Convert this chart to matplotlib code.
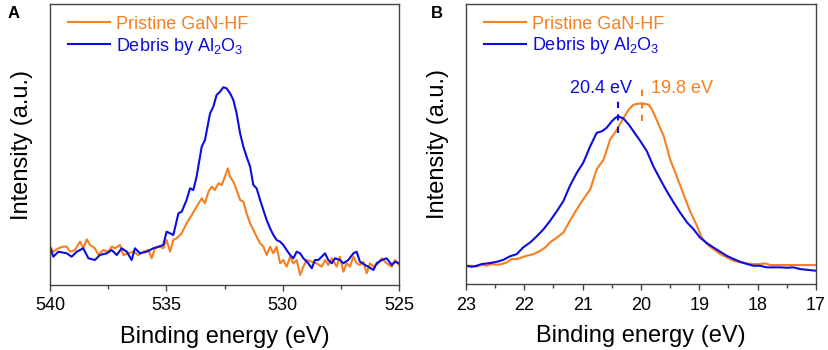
import numpy as np
import matplotlib
matplotlib.use('Agg')
import matplotlib.pyplot as plt

plt.rcParams['font.family'] = ['Liberation Sans', 'DejaVu Sans']
plt.rcParams['mathtext.fontset'] = 'custom'
plt.rcParams['mathtext.rm'] = 'Liberation Sans'
plt.rcParams['mathtext.default'] = 'regular'

ORANGE = '#F77F1E'
BLUE = '#0D0DDD'

# ---- panel A : O 1s region ----
a_orange_ev = [540.00, 539.86, 539.64, 539.43, 539.28, 539.14, 538.93, 538.71, 538.57, 538.42,
               538.28, 538.07, 537.92, 537.71, 537.49, 537.35, 537.21, 536.99, 536.85, 536.63,
               536.42, 536.20, 535.99, 535.77, 535.63, 535.49, 535.27, 535.13, 534.99, 534.84,
               534.70, 534.56, 534.34, 534.13, 533.91, 533.70, 533.48, 533.34, 533.19, 533.05,
               532.91, 532.76, 532.62, 532.48, 532.36, 532.26, 532.12, 531.98, 531.83, 531.69,
               531.55, 531.40, 531.26, 531.12, 530.97, 530.83, 530.69, 530.54, 530.40, 530.26,
               530.11, 529.97, 529.83, 529.68, 529.54, 529.40, 529.25, 529.11, 528.97, 528.75,
               528.54, 528.32, 528.18, 528.04, 527.89, 527.68, 527.54, 527.39, 527.25, 527.11,
               526.96, 526.82, 526.68, 526.53, 526.39, 526.25, 526.10, 525.89, 525.74, 525.53,
               525.31, 525.17, 525.00]
a_orange_int = [38.3, 33.3, 36.7, 38.3, 38.3, 33.3, 35.0, 43.3, 36.7, 45.7,
                40.0, 36.7, 30.0, 35.0, 33.3, 38.3, 36.7, 40.0, 30.0, 31.7,
                33.3, 30.0, 33.3, 35.0, 26.7, 36.7, 38.3, 36.7, 45.0, 33.3,
                45.0, 46.7, 51.7, 61.7, 70.0, 78.3, 86.7, 81.7, 93.3, 98.3,
                95.0, 101.7, 100.0, 108.3, 116.7, 108.3, 103.3, 95.0, 85.0, 83.3,
                71.7, 61.7, 55.0, 48.3, 41.7, 38.3, 30.0, 38.3, 31.7, 38.3,
                21.7, 25.0, 18.3, 28.3, 21.7, 25.0, 10.0, 18.3, 25.0, 23.3,
                21.7, 18.3, 25.0, 20.0, 26.7, 18.3, 28.3, 13.3, 21.7, 18.3,
                28.3, 21.7, 20.0, 23.3, 11.7, 21.7, 18.3, 21.7, 26.7, 21.7,
                18.3, 25.0, 20.0]

a_blue_ev = [540.00, 539.86, 539.64, 539.28, 539.07, 538.85, 538.57, 538.35, 538.07, 537.85,
             537.56, 537.35, 537.13, 536.92, 536.70, 536.49, 536.35, 536.13, 535.85, 535.56,
             535.34, 535.13, 534.99, 534.84, 534.70, 534.48, 534.34, 534.13, 533.98, 533.84,
             533.70, 533.48, 533.34, 533.12, 532.98, 532.84, 532.69, 532.55, 532.41, 532.26,
             532.12, 531.98, 531.83, 531.69, 531.55, 531.40, 531.26, 531.12, 530.97, 530.83,
             530.69, 530.54, 530.40, 530.26, 530.11, 529.97, 529.83, 529.68, 529.54, 529.40,
             529.25, 529.11, 528.90, 528.75, 528.61, 528.47, 528.32, 528.18, 528.04, 527.89,
             527.75, 527.54, 527.39, 527.18, 526.96, 526.82, 526.68, 526.46, 526.32, 526.10,
             525.96, 525.74, 525.53, 525.31, 525.17, 525.00]
a_blue_int = [38.3, 28.3, 33.3, 31.7, 28.3, 33.3, 36.7, 26.7, 25.0, 30.0,
              31.7, 35.0, 30.0, 36.7, 33.3, 25.0, 36.7, 31.7, 33.3, 36.7,
              38.3, 40.0, 53.3, 51.7, 50.0, 71.7, 73.3, 85.0, 96.7, 95.0,
              108.3, 138.3, 145.0, 171.7, 178.3, 190.0, 193.3, 197.7, 196.7, 191.7,
              185.0, 171.7, 151.7, 138.3, 128.3, 118.3, 100.0, 96.7, 85.0, 75.0,
              65.0, 56.7, 50.0, 45.0, 43.3, 40.0, 35.0, 30.0, 26.7, 33.3,
              31.7, 26.7, 21.7, 16.7, 25.0, 25.0, 28.3, 31.7, 25.0, 21.7,
              26.7, 25.0, 21.7, 25.0, 31.7, 33.3, 23.3, 20.0, 18.3, 15.0,
              21.7, 25.0, 26.7, 20.0, 23.3, 21.7]

# ---- panel B : valence band region ----
b_orange_ev = [23.00, 22.90, 22.82, 22.73, 22.65, 22.56, 22.47, 22.39, 22.30, 22.22,
               22.13, 22.04, 21.96, 21.84, 21.73, 21.64, 21.56, 21.44, 21.33, 21.22,
               21.10, 20.99, 20.87, 20.76, 20.64, 20.53, 20.41, 20.30, 20.21, 20.13,
               20.04, 19.96, 19.87, 19.81, 19.72, 19.61, 19.50, 19.39, 19.27, 19.16,
               19.04, 18.96, 18.87, 18.76, 18.64, 18.53, 18.41, 18.30, 18.18, 18.07,
               17.96, 17.87, 17.78, 17.67, 17.50, 17.33, 17.15, 17.00]
b_orange_int = [18.3, 18.3, 17.3, 19.3, 18.3, 20.0, 19.3, 20.0, 21.7, 25.0,
                25.0, 26.7, 28.3, 30.0, 33.3, 36.7, 41.7, 46.7, 51.7, 63.3,
                75.0, 85.0, 95.0, 115.0, 125.0, 145.0, 155.0, 166.7, 175.0, 180.0,
                181.0, 181.0, 180.0, 175.0, 163.3, 148.3, 125.0, 108.3, 90.0, 73.3,
                58.3, 46.7, 40.0, 35.0, 30.0, 26.7, 23.3, 21.7, 20.7, 20.0,
                20.0, 20.7, 19.0, 19.0, 19.0, 19.0, 19.0, 19.0]

b_blue_ev = [23.00, 22.90, 22.82, 22.73, 22.59, 22.47, 22.36, 22.25, 22.13, 22.02,
             21.90, 21.79, 21.67, 21.56, 21.44, 21.33, 21.22, 21.10, 20.99, 20.87,
             20.76, 20.67, 20.59, 20.50, 20.44, 20.39, 20.30, 20.21, 20.13, 20.01,
             19.90, 19.79, 19.67, 19.56, 19.44, 19.33, 19.21, 19.10, 18.99, 18.87,
             18.76, 18.64, 18.53, 18.41, 18.30, 18.18, 18.07, 17.96, 17.84, 17.73,
             17.61, 17.50, 17.39, 17.27, 17.16, 17.00]
b_blue_int = [18.3, 17.3, 18.3, 20.0, 21.0, 22.3, 24.3, 27.7, 30.0, 36.7,
              41.7, 47.7, 55.0, 63.3, 73.3, 83.3, 98.3, 111.7, 121.7, 138.3,
              151.7, 153.3, 156.7, 163.3, 166.7, 168.3, 166.0, 160.0, 153.3, 143.3,
              133.3, 118.3, 105.0, 93.3, 81.7, 71.7, 61.7, 55.0, 46.7, 41.0,
              36.7, 32.3, 28.3, 25.0, 22.3, 20.0, 18.3, 18.3, 16.7, 16.7,
              16.7, 16.3, 16.7, 15.0, 14.3, 13.3]

# peak markers (position, ymin, ymax) and labels
peak_blue = (20.40, 151.7, 183.3)
peak_orange = (19.98, 163.3, 197.7)
label_blue = '20.4 eV'
label_orange = '19.8 eV'

labels = ['Pristine GaN-HF', 'Debris by Al$_\\mathregular{2}$O$_\\mathregular{3}$']

fig = plt.figure(figsize=(8.29, 3.5), dpi=100)
axA = fig.add_axes([50 / 829, 65 / 350, 349 / 829, 281 / 350])
axB = fig.add_axes([466 / 829, 66 / 350, 350 / 829, 280 / 350])


def style_axes(ax, xlim, major, minor):
    ax.set_xlim(*xlim)
    ax.set_ylim(0, 281)
    ax.set_xticks(np.arange(xlim[1], xlim[0] + 0.001, major))
    ax.set_xticks(np.arange(xlim[1], xlim[0] + 0.001, minor), minor=True)
    ax.set_yticks([])
    ax.tick_params(axis='x', which='major', direction='out', length=4, width=1,
                   labelsize=13, pad=5, color='#444444')
    ax.tick_params(axis='x', which='minor', direction='out', length=3, width=1,
                   color='#444444')
    for sp in ax.spines.values():
        sp.set_color('#444444')
        sp.set_linewidth(1.0)
    ax.set_xlabel('Binding energy (eV)', fontsize=17, labelpad=8)
    ax.set_ylabel('Intensity (a.u.)', fontsize=17, labelpad=12)
    leg = ax.legend(loc='upper left', bbox_to_anchor=(0.052, 0.958), frameon=False,
                    fontsize=13, handlelength=2.3, handletextpad=0.35,
                    borderpad=0, borderaxespad=0, labelspacing=0.15,
                    labelcolor='linecolor')
    return leg


axA.plot(a_orange_ev, a_orange_int, color=ORANGE, lw=1.5, label=labels[0])
axA.plot(a_blue_ev, a_blue_int, color=BLUE, lw=1.5, label=labels[1])
style_axes(axA, (540, 525), 5, 2.5)

axB.plot(b_orange_ev, b_orange_int, color=ORANGE, lw=1.5, label=labels[0])
axB.plot(b_blue_ev, b_blue_int, color=BLUE, lw=1.5, label=labels[1])
axB.vlines(peak_blue[0], peak_blue[1], peak_blue[2], colors=BLUE, lw=1.5,
           linestyles=(0, (3, 3)))
axB.vlines(peak_orange[0], peak_orange[1], peak_orange[2], colors=ORANGE, lw=1.5,
           linestyles=(0, (3, 3)))
axB.text(20.16, 195.7, label_blue, color=BLUE, fontsize=13, ha='right', va='center')
axB.text(19.83, 195.7, label_orange, color=ORANGE, fontsize=13, ha='left', va='center')
style_axes(axB, (23, 17), 1, 0.5)
axB.xaxis.set_major_formatter(matplotlib.ticker.FormatStrFormatter('%d'))

fig.text(8 / 829, 1 - 13 / 350, 'A', fontsize=12, fontweight='bold', va='center')
fig.text(431 / 829, 1 - 13 / 350, 'B', fontsize=12, fontweight='bold', va='center')

fig.savefig('out.png', dpi=100)
